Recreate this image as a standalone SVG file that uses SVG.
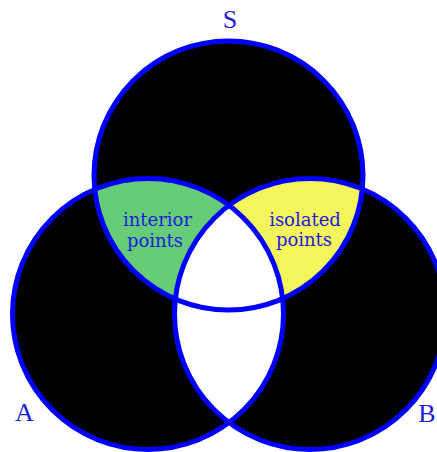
<svg xmlns="http://www.w3.org/2000/svg" width="437" height="452" viewBox="0 0 437 452">
  <defs>
    <clipPath id="clipS"><circle cx="228.5" cy="175.5" r="134.5"/></clipPath>
    <clipPath id="clipA"><circle cx="148" cy="314" r="135.5"/></clipPath>
  </defs>
  <style>
    .ring { fill: none; stroke: #0000ff; stroke-width: 5; }
    .lbl { font-family: "DejaVu Serif", "Liberation Serif", serif; fill: #1c1ce0; text-anchor: middle; }
    .reg { font-size: 18px; }
    .set { font-size: 26px; font-family: "Liberation Serif", serif; }
  </style>
  <rect width="437" height="452" fill="#ffffff"/>
  <g id="fills">
    <circle cx="228.5" cy="175.5" r="134.5" fill="#000000"/>
    <circle cx="148" cy="314" r="135.5" fill="#000000"/>
    <circle cx="310" cy="314" r="135.5" fill="#000000"/>
    <circle cx="148" cy="314" r="135.5" fill="#66cc77" clip-path="url(#clipS)"/>
    <circle cx="310" cy="314" r="135.5" fill="#f4f45c" clip-path="url(#clipS)"/>
    <circle cx="310" cy="314" r="135.5" fill="#ffffff" clip-path="url(#clipA)"/>
  </g>
  <g id="circle-S"><circle class="ring" cx="228.5" cy="175.5" r="134.5"/></g>
  <g id="circle-A"><circle class="ring" cx="148" cy="314" r="135.5"/></g>
  <g id="circle-B"><circle class="ring" cx="310" cy="314" r="135.5"/></g>
  <g id="labels">
    <text class="lbl reg" x="157.5" y="226">interior</text>
    <text class="lbl reg" x="155" y="247">points</text>
    <text class="lbl reg" x="305" y="226">isolated</text>
    <text class="lbl reg" x="304" y="246">points</text>
    <text class="lbl set" x="230" y="28">S</text>
    <text class="lbl set" x="24.5" y="420.5">A</text>
    <text class="lbl set" x="427" y="421.5">B</text>
  </g>
</svg>
